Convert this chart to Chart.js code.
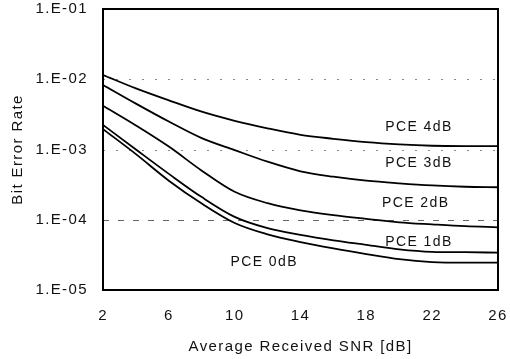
<!DOCTYPE html>
<html>
<head>
<meta charset="utf-8">
<script src="https://cdn.jsdelivr.net/npm/chart.js@4.4.0/dist/chart.umd.min.js"></script>
<style>
  html, body { margin: 0; padding: 0; background: #fff; }
  #wrap { width: 510px; height: 359px; }
</style>
</head>
<body>
<div id="wrap"><canvas id="c" width="510" height="359"></canvas></div>
<script>
// ---- data ----
const snr = [2, 4, 6, 8, 10, 12, 14, 16, 18, 20, 22, 24, 26];
const seriesNames = ['PCE 4dB', 'PCE 3dB', 'PCE 2dB', 'PCE 1dB', 'PCE 0dB'];
const ber4 = [1.15e-2, 7.4e-3, 5.0e-3, 3.45e-3, 2.56e-3, 2.0e-3, 1.62e-3, 1.42e-3, 1.27e-3, 1.18e-3, 1.13e-3, 1.12e-3, 1.12e-3];
const ber3 = [8.3e-3, 4.5e-3, 2.5e-3, 1.45e-3, 9.8e-4, 6.7e-4, 4.9e-4, 4.1e-4, 3.6e-4, 3.3e-4, 3.08e-4, 2.95e-4, 2.9e-4];
const ber2 = [4.2e-3, 2.2e-3, 1.1e-3, 5.0e-4, 2.5e-4, 1.72e-4, 1.36e-4, 1.16e-4, 1.03e-4, 9.2e-5, 8.6e-5, 8.1e-5, 7.8e-5];
const ber1 = [2.24e-3, 1.0e-3, 4.5e-4, 2.1e-4, 1.1e-4, 7.6e-5, 6.1e-5, 5.1e-5, 4.4e-5, 3.8e-5, 3.5e-5, 3.45e-5, 3.4e-5];
const ber0 = [1.95e-3, 8.6e-4, 3.6e-4, 1.7e-4, 9.0e-5, 6.2e-5, 4.8e-5, 3.9e-5, 3.25e-5, 2.75e-5, 2.5e-5, 2.45e-5, 2.45e-5];
const xTicks = [2, 6, 10, 14, 18, 22, 26];
const yTicks = [1e-5, 1e-4, 1e-3, 1e-2, 1e-1];
const yTickLabels = ['1.E-05', '1.E-04', '1.E-03', '1.E-02', '1.E-01'];
const dottedGridValues = [1e-2, 1e-3];
const dashedGridValues = [1e-4];
// curve label anchors (data coordinates)
const labelX = [21.2, 21.2, 21.0, 21.2, 11.8];
const labelY = [2.1e-3, 6.5e-4, 1.7e-4, 4.8e-5, 2.5e-5];
const xTitle = 'Average Received SNR [dB]';
const yTitle = 'Bit Error Rate';

const FONT = "'Liberation Sans', Arial, Helvetica, sans-serif";
const SPACING = '1.4px';

const spacingPlugin = {
  id: 'spacing',
  beforeUpdate(chart) { chart.ctx.letterSpacing = SPACING; },
  beforeDraw(chart) { chart.ctx.letterSpacing = SPACING; }
};

const gridPlugin = {
  id: 'customGrid',
  beforeDatasetsDraw(chart) {
    const {ctx, chartArea: a, scales: {y}} = chart;
    ctx.save();
    ctx.lineWidth = 1;
    ctx.strokeStyle = '#8a8a8a';
    ctx.setLineDash([2, 11]);
    dottedGridValues.forEach(v => {
      const py = Math.round(y.getPixelForValue(v)) + 0.5;
      ctx.beginPath(); ctx.moveTo(a.left, py); ctx.lineTo(a.right, py); ctx.stroke();
    });
    ctx.strokeStyle = '#666';
    ctx.setLineDash([6, 9]);
    dashedGridValues.forEach(v => {
      const py = Math.round(y.getPixelForValue(v)) + 0.5;
      ctx.beginPath(); ctx.moveTo(a.left, py); ctx.lineTo(a.right, py); ctx.stroke();
    });
    ctx.restore();
  },
  afterDatasetsDraw(chart) {
    const {ctx, chartArea: a, scales: {x, y}} = chart;
    ctx.save();
    ctx.font = '14px ' + FONT;
    ctx.letterSpacing = SPACING;
    ctx.fillStyle = '#111';
    ctx.textAlign = 'center';
    ctx.textBaseline = 'middle';
    seriesNames.forEach((n, i) => {
      ctx.fillText(n, x.getPixelForValue(labelX[i]), y.getPixelForValue(labelY[i]));
    });
    ctx.strokeStyle = '#000';
    ctx.lineWidth = 2;
    ctx.setLineDash([]);
    ctx.strokeRect(a.left, a.top, a.right - a.left, a.bottom - a.top);
    ctx.restore();
  }
};

function zeroPad(s) { s.paddingTop = 0; s.paddingBottom = 0; s.paddingLeft = 0; s.paddingRight = 0; }

const series = [ber4, ber3, ber2, ber1, ber0];
new Chart(document.getElementById('c'), {
  type: 'line',
  data: {
    datasets: series.map((s, i) => ({
      label: seriesNames[i],
      data: snr.map((v, j) => ({x: v, y: s[j]})),
      borderColor: '#000',
      borderWidth: 1.8,
      pointRadius: 0,
      cubicInterpolationMode: 'monotone',
      fill: false
    }))
  },
  options: {
    responsive: false,
    animation: false,
    devicePixelRatio: 1,
    layout: { padding: { top: 9, right: 12, left: 0, bottom: 0 } },
    plugins: { legend: { display: false }, tooltip: { enabled: false } },
    scales: {
      x: {
        type: 'linear',
        min: 2, max: 26,
        afterBuildTicks(s) { s.ticks = xTicks.map(v => ({value: v})); },
        afterFit(s) { s.height = 69; zeroPad(s); },
        grid: { display: false, drawTicks: false },
        border: { display: false },
        ticks: { color: '#111', font: { size: 15, family: FONT }, padding: 17, maxRotation: 0, autoSkip: false },
        title: { display: true, text: xTitle, color: '#111', font: { size: 15, family: FONT }, padding: { top: 0, bottom: 3 } }
      },
      y: {
        type: 'logarithmic',
        min: 1e-5, max: 1e-1,
        afterBuildTicks(s) { s.ticks = yTicks.map(v => ({value: v})); },
        afterFit(s) { s.width = 103; zeroPad(s); },
        grid: { display: false, drawTicks: false },
        border: { display: false },
        ticks: {
          color: '#111', font: { size: 15, family: FONT }, padding: 15, autoSkip: false,
          callback(v) { const k = yTicks.indexOf(v); return k >= 0 ? yTickLabels[k] : ''; }
        },
        title: { display: true, text: yTitle, color: '#111', font: { size: 15, family: FONT }, padding: { top: 9, bottom: 0 } }
      }
    }
  },
  plugins: [spacingPlugin, gridPlugin]
});
</script>
</body>
</html>
